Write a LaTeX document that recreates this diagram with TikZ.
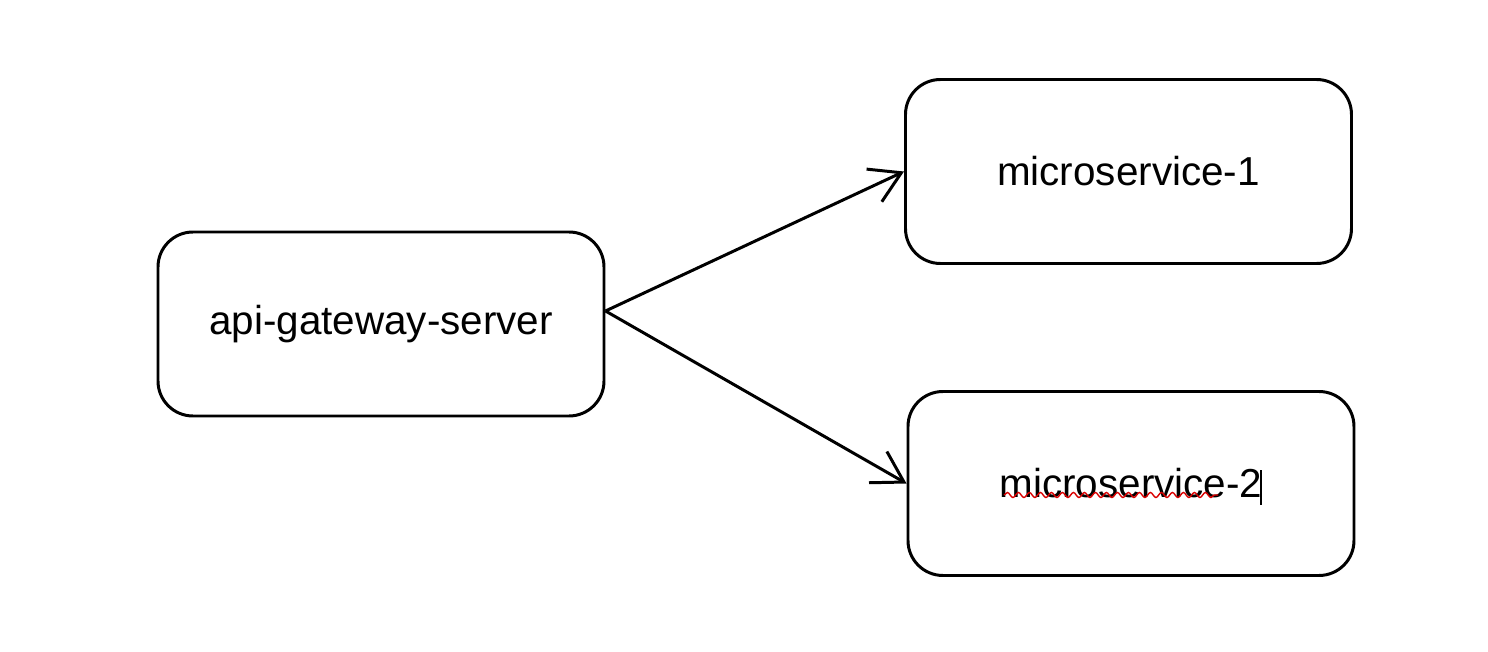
\documentclass[tikz,border=0pt]{standalone}
\usepackage{fontspec}
\setmainfont{Liberation Sans}
\usetikzlibrary{arrows.meta, decorations.pathmorphing, calc}

\tikzset{
    servizio/.style = {draw, line width = 0.85pt, rounded corners = 0.35cm,
        minimum width = 4.46cm, minimum height = 1.84cm,
        font = \fontsize{11.5pt}{14pt}\selectfont},
    freccia/.style = {line width = 0.85pt,
        -{Straight Barb[length = 0.3cm, width = 0.36cm, line width = 0.85pt]}}
}

\begin{document}
\begin{tikzpicture}
    % Cornice
    \useasboundingbox (0,0) rectangle (14.88,6.52);
    % Nodi
    \node[servizio] (gw) at (3.81,3.28) {api-gateway-server};
    \node[servizio] (ms1) at (11.285,4.805) {microservice-1};
    \node[servizio] (ms2) at (11.31,1.685) {microservice-2};
    % Frecce
    \coordinate (src) at ([yshift = 1.3mm]gw.east);
    \draw[freccia] (src) -- (ms1.west);
    \draw[freccia] (src) -- (ms2.west);
    % Sottolineatura e cursore
    \draw[red!85!black, line width = 0.4pt,
        decorate, decoration = {snake, amplitude = 0.25mm, segment length = 1.1mm}]
        (10.04,1.57) -- (12.18,1.57);
    \draw[line width = 0.6pt] (12.61,1.47) -- (12.61,1.82);
\end{tikzpicture}
\end{document}
